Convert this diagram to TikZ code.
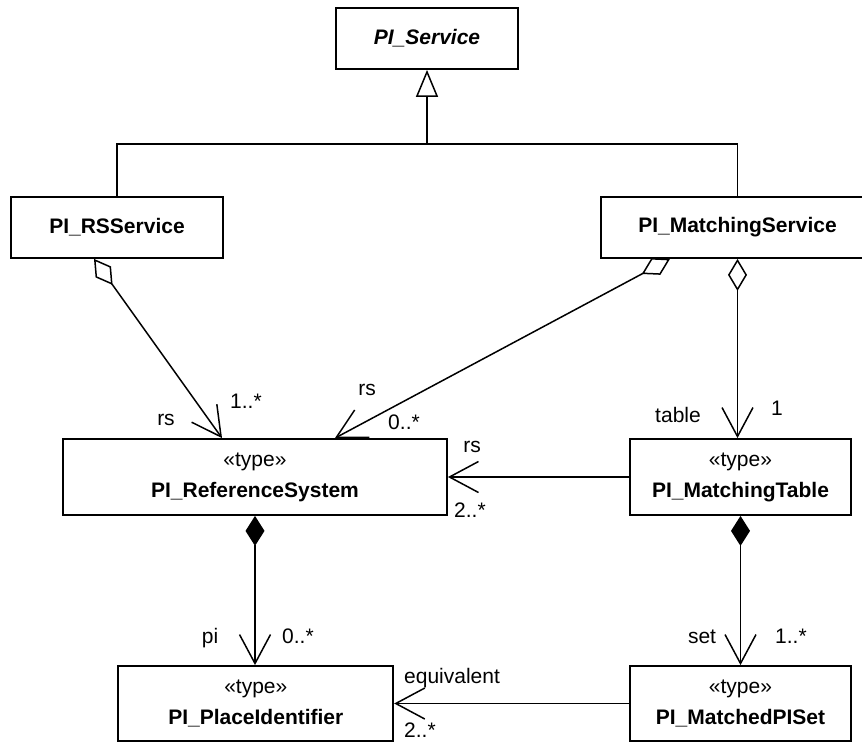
\documentclass[tikz,border=0pt]{standalone}
\usepackage{fontspec}
\setmainfont{Liberation Sans}
\usetikzlibrary{arrows.meta,calc}
\begin{document}
\begin{tikzpicture}[x=1pt,y=-1pt,
  box/.style={draw, line width=1.8pt, fill=white, inner sep=0pt, align=center,
    font=\fontsize{21}{31}\selectfont},
  lbl/.style={inner sep=0pt, font=\fontsize{21}{25}\selectfont},
  conn/.style={line width=1.5pt},
  openhead/.style={-{Straight Barb[length=29pt,width=31pt]}},
  aggr/.style={conn, {Diamond[open,length=32pt,width=19pt]}-{Straight Barb[length=29pt,width=31pt]}},
  compo/.style={conn, {Diamond[length=30pt,width=19pt]}-{Straight Barb[length=29pt,width=31pt]}},
  assoc/.style={conn, -{Straight Barb[length=29pt,width=31pt]}},
  gen/.style={conn, -{Triangle[open,length=27pt,width=22pt]}}
]
\clip (0,0) rectangle (862,742);
\useasboundingbox (0,0) rectangle (862,742);

% classes
\node[box, minimum width=182pt, minimum height=61pt] (ps) at (427,38.5) {\bfseries\itshape PI\_Service};
\node[box, minimum width=212pt, minimum height=61pt] (rss) at (117,227.5) {\bfseries PI\_RSService};
\node[box, minimum width=273pt, minimum height=61pt] (mss) at (737.5,227.5) {\bfseries PI\_MatchingService};
\node[box, minimum width=384pt, minimum height=76pt] (rs) at (255,477) {«type»\\\bfseries PI\_ReferenceSystem};
\node[box, minimum width=221pt, minimum height=76pt] (mt) at (740.5,477) {«type»\\\bfseries PI\_MatchingTable};
\node[box, minimum width=275pt, minimum height=75pt] (pi) at (255.8,703.5) {«type»\\\bfseries PI\_PlaceIdentifier};
\node[box, minimum width=221pt, minimum height=75pt] (mp) at (740.5,703.5) {«type»\\\bfseries PI\_MatchedPISet};

% generalization
\coordinate (j) at (427,144);
\draw[conn] (rss.north) -- (rss.north |- j) -| (mss.north);
\draw[gen] (j) -- (ps.south);

% aggregations
\draw[aggr] ($(rss.south)+(-23,0)$) -- ($(rs.north)+(-33,0)$);
\draw[aggr] ($(mss.south)+(-67.5,0)$) -- ($(rs.north)+(80,0)$);
\draw[aggr] (mss.south) -- (mss.south |- mt.north);

% compositions
\draw[compo] (rs.south) -- (rs.south |- pi.north);
\draw[compo] (mt.south) -- (mt.south |- mp.north);

% associations
\draw[assoc] (mt.west) -- (rs.east);
\draw[assoc] (mp.west) -- (pi.east);

% labels
\node[lbl, anchor=base] (l1) at (166,425) {rs};
\node[lbl, anchor=base west] (l2) at (230,408) {1..*};
\node[lbl, anchor=base] (l3) at (367,395) {rs};
\node[lbl, anchor=base] (l4) at (404,429) {0..*};
\node[lbl, anchor=base] (l5) at (678,422) {table};
\node[lbl, anchor=base] (l6) at (777,415) {1};
\node[lbl, anchor=base] (l7) at (472,452) {rs};
\node[lbl, anchor=base west] (l8) at (454,517) {2..*};
\node[lbl, anchor=base] (l9) at (210,643) {pi};
\node[lbl, anchor=base west] (l10) at (282,643) {0..*};
\node[lbl, anchor=base] (l11) at (702,643) {set};
\node[lbl, anchor=base west] (l12) at (775,643) {1..*};
\node[lbl, anchor=base west] (l13) at (404,683) {equivalent};
\node[lbl, anchor=base west] (l14) at (404,737) {2..*};
\end{tikzpicture}
\end{document}
